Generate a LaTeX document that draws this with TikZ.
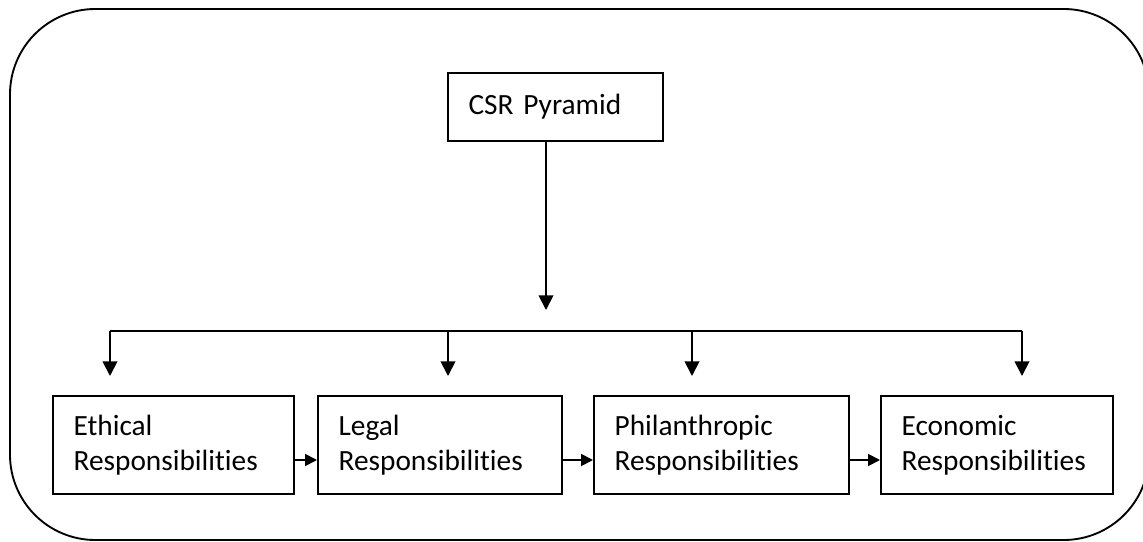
\documentclass[tikz,border=0pt]{standalone}
\usepackage{fontspec}
\setmainfont{Carlito}[RawFeature={-liga}]
\usetikzlibrary{arrows.meta}
\begin{document}
\begin{tikzpicture}[x=0.75pt,y=-0.75pt,
  frame/.style={line width=1.4pt,rounded corners=64pt},
  box/.style={draw,line width=1.4pt,anchor=north west,align=left,font=\fontsize{22}{26.3}\selectfont,inner xsep=15.5pt,text width=#1,minimum height=73.5pt,inner ysep=0pt},
  conn/.style={line width=1.4pt},
  arr/.style={line width=1.4pt,-{Triangle[width=11pt,length=11pt]}},
  sarr/.style={line width=1.4pt,-{Triangle[width=9pt,length=9pt]}}]
\useasboundingbox (0,0) rectangle (1143,542);
\draw[frame] (10,9) rectangle (1149,540);
\node[box=130pt,minimum height=51pt] (csr) at (447,72) {CSR Pyramid};
\node[box=150pt] (e1) at (52,395) {Ethical\\Responsibilities};
\node[box=152pt] (e2) at (317,395) {Legal\\Responsibilities};
\node[box=160pt] (e3) at (593,395) {Philanthropic\\Responsibilities};
\node[box=143pt] (e4) at (880,395) {Economic\\Responsibilities};
\coordinate (ct) at (546,310);
\draw[arr] (csr.south -| ct) -- (ct);
\coordinate (b1) at (110,331);
\coordinate (b2) at (448,331);
\coordinate (b3) at (692,331);
\coordinate (b4) at (1022,331);
\draw[conn] (b1) -- (b4);
\foreach \i in {1,2,3,4}{
  \draw[arr] (b\i) -- ++(0,45) coordinate (t\i);
}
\draw[sarr] (e1.east |- 0,460) -- (e2.west |- 0,460);
\draw[sarr] (e2.east |- 0,460) -- (e3.west |- 0,460);
\draw[sarr] (e3.east |- 0,460) -- (e4.west |- 0,460);
\end{tikzpicture}
\end{document}
